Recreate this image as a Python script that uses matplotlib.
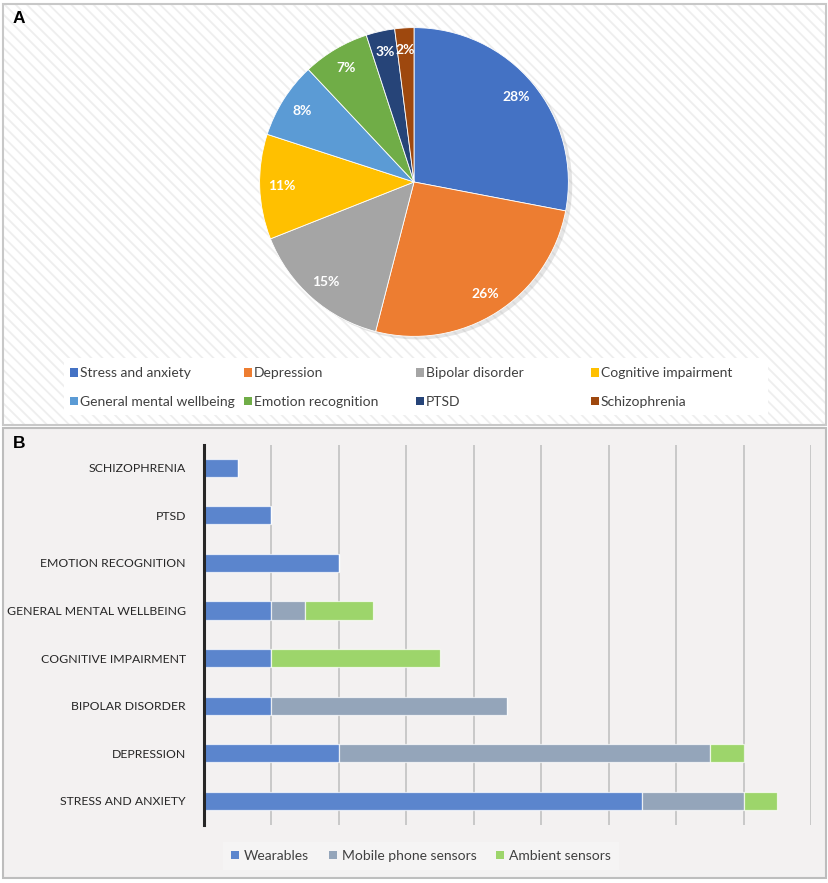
import matplotlib
matplotlib.use('Agg')
import matplotlib.pyplot as plt
from matplotlib.patches import Rectangle, Circle, Patch

plt.rcParams['font.family'] = ['Lato', 'DejaVu Sans']
plt.rcParams['hatch.linewidth'] = 1.3

# ---- data ----
conditions = ['Stress and anxiety', 'Depression', 'Bipolar disorder', 'Cognitive impairment',
              'General mental wellbeing', 'Emotion recognition', 'PTSD', 'Schizophrenia']
share_pct = [28, 26, 15, 11, 8, 7, 3, 2]
pie_colors = ['#4472C4', '#ED7D31', '#A5A5A5', '#FFC000', '#5B9BD5', '#70AD47', '#264478', '#9E480E']

wearables = [6.5, 2, 1, 1, 1, 2, 1, 0.5]
mobile_phone = [1.5, 5.5, 3.5, 0, 0.5, 0, 0, 0]
ambient = [0.5, 0.5, 0, 2.5, 1, 0, 0, 0]
sensor_names = ['Wearables', 'Mobile phone sensors', 'Ambient sensors']
sensor_colors = ['#5B85CD', '#94A5BA', '#9DD56B']

W, H = 829, 883
fig = plt.figure(figsize=(W / 100, H / 100), dpi=100)


def fx(px):
    return px / W


def fy(py):
    return 1 - py / H


# panel A background (white with light diagonal hatch) and border
fig.patches.append(Rectangle((fx(3), fy(425)), fx(823), 421 / H, transform=fig.transFigure,
                             facecolor='white', edgecolor='#EEEEEE', hatch='\\' * 3, lw=0, zorder=-3))
fig.patches.append(Rectangle((fx(3), fy(425)), fx(823), 421 / H, transform=fig.transFigure,
                             facecolor='none', edgecolor='#C8C8C8', lw=1.5, zorder=-2))
# panel B background and border
fig.patches.append(Rectangle((fx(3), fy(878)), fx(823), 450 / H, transform=fig.transFigure,
                             facecolor='#F3F1F1', edgecolor='#BDBDBD', lw=1.5, zorder=-3))

fig.text(fx(19), fy(18.5), 'A', ha='center', va='center', fontsize=12.5, fontweight='bold',
         family='Liberation Sans')
fig.text(fx(19), fy(444), 'B', ha='center', va='center', fontsize=12.5, fontweight='bold',
         family='Liberation Sans')

# ---- A: pie ----
r_px = 159
cx, cy = 414, 182
ax1 = fig.add_axes([fx(cx - r_px), fy(cy + r_px), 2 * r_px / W, 2 * r_px / H])
ax1.set_zorder(2)
ax1.set_facecolor('none')
ax1.add_patch(Circle((0.025, -0.02), 1.0, facecolor='#9A9A9A', alpha=0.25, lw=0, zorder=0))
wedges, texts, autotexts = ax1.pie(share_pct, colors=pie_colors, startangle=90, counterclock=False,
                                   autopct='%d%%', pctdistance=0.86,
                                   wedgeprops=dict(edgecolor='white', linewidth=0.6))
for t in autotexts:
    t.set_color('white')
    t.set_fontweight('bold')
    t.set_fontsize(10)
ax1.set_xlim(-1.03, 1.03)
ax1.set_ylim(-1.03, 1.03)
ax1.set_aspect('equal')
ax1.axis('off')

# legend A (fixed column grid like the original)
fig.patches.append(Rectangle((fx(64), fy(415)), fx(704), 57 / H, transform=fig.transFigure,
                             facecolor='white', edgecolor='none', zorder=-1))
col_x = [74, 248, 420, 595]
row_y = [372.5, 401.5]
for i, (name, c) in enumerate(zip(conditions, pie_colors)):
    x0 = col_x[i % 4]
    y0 = row_y[i // 4]
    fig.patches.append(Rectangle((fx(x0 - 4), fy(y0 + 4)), 8 / W, 8 / H, transform=fig.transFigure,
                                 facecolor=c, edgecolor='none', zorder=1))
    fig.text(fx(x0 + 6), fy(y0), name, ha='left', va='center', fontsize=10, color='#404040', zorder=3)

# ---- B: stacked horizontal bars ----
ax2 = fig.add_axes([fx(204), fy(825), (811 - 204) / W, 380 / H])
ax2.set_zorder(2)
ax2.set_facecolor('none')
ypos = list(range(len(conditions)))
left = [0] * len(conditions)
for vals, name, c in zip([wearables, mobile_phone, ambient], sensor_names, sensor_colors):
    ax2.barh(ypos, vals, left=left, height=0.38, color=c, edgecolor=(1, 1, 1, 0.7),
             linewidth=0.9, label=name, zorder=3)
    left = [a + b for a, b in zip(left, vals)]

ax2.set_xlim(0, 9)
ax2.set_ylim(-0.51, 7.48)
ax2.set_xticks(range(1, 10))
ax2.set_xticklabels([])
ax2.grid(axis='x', color='#BDBDBD', linewidth=1.1, zorder=1)
ax2.set_axisbelow(True)
ax2.tick_params(axis='x', length=0)
ax2.set_yticks(ypos)
ax2.set_yticklabels([c.upper() for c in conditions], fontsize=8.8, color='#262626')
ax2.tick_params(axis='y', length=0, pad=13)
for s in ['top', 'right', 'bottom']:
    ax2.spines[s].set_visible(False)
ax2.spines['left'].set_color('#262626')
ax2.spines['left'].set_linewidth(2.2)
ax2.spines['left'].set_zorder(5)

handles = [Patch(facecolor=c, edgecolor='none') for c in sensor_colors]
leg = fig.legend(handles, sensor_names, loc='center', bbox_to_anchor=(fx(421), fy(856)), ncol=3,
                 fontsize=10, frameon=True, fancybox=False, handlelength=0.55, handleheight=0.55,
                 handletextpad=0.35, columnspacing=1.45, borderpad=0.6, borderaxespad=0)
leg.get_frame().set_facecolor('#F6F5F5')
leg.get_frame().set_edgecolor('none')
for t in leg.get_texts():
    t.set_color('#404040')

fig.savefig('out.png', dpi=100)
